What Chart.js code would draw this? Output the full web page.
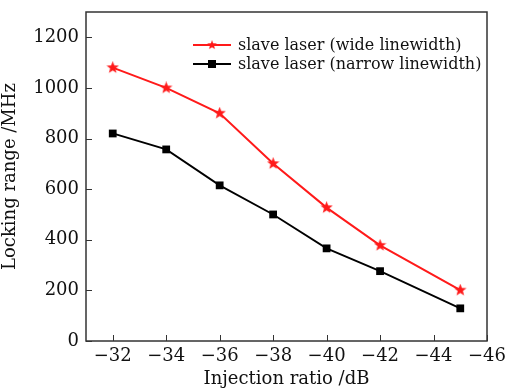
<!DOCTYPE html>
<html>
<head>
<meta charset="utf-8">
<script src="https://cdn.jsdelivr.net/npm/chart.js@4"></script>
<style>
  html, body { margin: 0; padding: 0; background: #fff; }
  #wrap { width: 505px; height: 390px; }
</style>
</head>
<body>
<div id="wrap"><canvas id="lockingChart" width="505" height="390"></canvas></div>
<script>
// values
const injectionRatio = [-32, -34, -36, -38, -40, -42, -45];
const wideLinewidth = [1080, 1000, 900, 701, 527, 378, 201];
const narrowLinewidth = [820, 757, 615, 500, 366, 276, 129];
const xTicks = [-32, -34, -36, -38, -40, -42, -44, -46];
const yTicks = [0, 200, 400, 600, 800, 1000, 1200];

const FONT = "'DejaVu Serif', 'Liberation Serif', serif";

// filled five point star for the red series
function makeStar(size, color) {
    const c = document.createElement('canvas');
    c.width = size; c.height = size;
    const g = c.getContext('2d');
    const cx = size / 2, cy = size / 2, ro = size / 2, ri = ro * 0.42;
    g.beginPath();
    for (let i = 0; i < 10; i++) {
        const r = i % 2 === 0 ? ro : ri;
        const a = -Math.PI / 2 + i * Math.PI / 5;
        g.lineTo(cx + r * Math.cos(a), cy + r * Math.sin(a));
    }
    g.closePath();
    g.fillStyle = color;
    g.fill();
    return c;
}
const starImg = makeStar(13, '#ff1a1a');

function toPoints(xs, ys) {
    return xs.map((x, i) => ({ x: x, y: ys[i] }));
}

// frame, inward ticks and legend inside the plot
const framePlugin = {
    id: 'frame',
    afterDraw(chart) {
        const ctx = chart.ctx;
        const a = chart.chartArea;
        const xs = chart.scales.x, ys = chart.scales.y;
        ctx.save();
        ctx.strokeStyle = '#333';
        ctx.lineWidth = 1.5;
        ctx.strokeRect(a.left, a.top, a.right - a.left, a.bottom - a.top);
        ctx.lineWidth = 1;
        ctx.beginPath();
        xTicks.forEach(v => {
            const px = Math.round(xs.getPixelForValue(v)) + 0.5;
            ctx.moveTo(px, a.bottom);
            ctx.lineTo(px, a.bottom - 6);
        });
        yTicks.forEach(v => {
            const py = Math.round(ys.getPixelForValue(v)) + 0.5;
            ctx.moveTo(a.left, py);
            ctx.lineTo(a.left + 6, py);
        });
        ctx.stroke();

        // legend
        const x0 = 193, x1 = 231;
        let y = 45;
        ctx.font = "16px " + FONT;
        ctx.textBaseline = 'middle';
        ctx.fillStyle = '#111';
        chart.data.datasets.forEach(ds => {
            ctx.strokeStyle = ds.borderColor;
            ctx.lineWidth = ds.borderWidth;
            ctx.beginPath();
            ctx.moveTo(x0, y);
            ctx.lineTo(x1, y);
            ctx.stroke();
            const mid = (x0 + x1) / 2;
            if (ds.pointStyle === 'rect') {
                ctx.fillStyle = ds.pointBackgroundColor;
                ctx.fillRect(mid - 4, y - 4, 8, 8);
            } else {
                ctx.drawImage(starImg, mid - 5, y - 5, 10, 10);
            }
            ctx.fillStyle = '#111';
            ctx.fillText(ds.label, 238, y + 1);
            y += 19;
        });
        ctx.restore();
    }
};

const ctx = document.getElementById('lockingChart').getContext('2d');
const chart = new Chart(ctx, {
    type: 'line',
    data: {
        datasets: [{
            label: 'slave laser (wide linewidth)',
            data: toPoints(injectionRatio, wideLinewidth),
            borderColor: '#ff1a1a',
            backgroundColor: '#ff1a1a',
            pointBackgroundColor: '#ff1a1a',
            borderWidth: 2,
            pointStyle: starImg,
            pointRadius: 6
        }, {
            label: 'slave laser (narrow linewidth)',
            data: toPoints(injectionRatio, narrowLinewidth),
            borderColor: '#000',
            backgroundColor: '#000',
            pointBackgroundColor: '#000',
            borderWidth: 1.8,
            pointStyle: 'rect',
            pointRadius: 5.5,
            pointBorderWidth: 0
        }]
    },
    options: {
        responsive: false,
        animation: false,
        layout: { padding: { top: 12, right: 18, left: 0, bottom: 0 } },
        plugins: {
            legend: { display: false },
            tooltip: { enabled: false }
        },
        scales: {
            x: {
                type: 'linear',
                reverse: true,
                min: -46,
                max: -31,
                afterBuildTicks: s => { s.ticks = xTicks.map(v => ({ value: v })); },
                grid: { drawOnChartArea: false, drawTicks: false },
                border: { display: false },
                ticks: {
                    padding: 5,
                    color: '#111',
                    font: { family: FONT, size: 18 },
                    callback: v => '\u2212' + Math.abs(v)
                },
                title: {
                    display: true,
                    text: 'Injection ratio /dB',
                    color: '#111',
                    font: { family: FONT, size: 18 },
                    padding: { top: 0, bottom: 0 }
                },
                afterFit: s => {
                    s.height = 49;
                    s.paddingLeft = 0;
                    s.paddingRight = 0;
                }
            },
            y: {
                min: 0,
                max: 1300,
                afterBuildTicks: s => { s.ticks = yTicks.map(v => ({ value: v })); },
                grid: { drawOnChartArea: false, drawTicks: false },
                border: { display: false },
                ticks: {
                    padding: 7,
                    color: '#111',
                    font: { family: FONT, size: 18 },
                    callback: v => String(v)
                },
                title: {
                    display: true,
                    text: 'Locking range /MHz',
                    color: '#111',
                    font: { family: FONT, size: 18 },
                    padding: { top: 0, bottom: 4 }
                },
                afterFit: s => {
                    s.width = 86;
                    s.paddingTop = 0;
                    s.paddingBottom = 0;
                }
            }
        }
    },
    plugins: [framePlugin]
});
</script>
</body>
</html>
